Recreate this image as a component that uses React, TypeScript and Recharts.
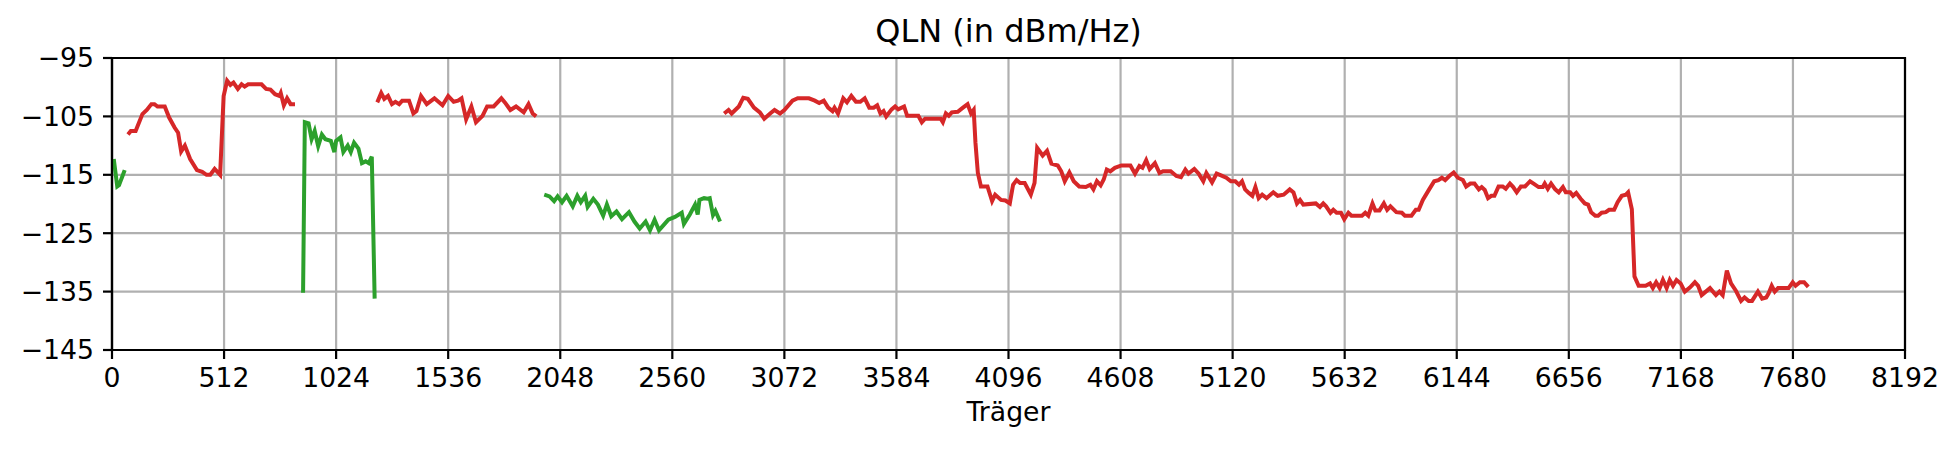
import { LineChart, Line, XAxis, YAxis, CartesianGrid, ReferenceArea } from "recharts"

// QLN per carrier, [carrier, dBm/Hz]
const greenA: [number, number][] = [
  [8, -112.3], [24, -117], [32, -116.8], [40, -116], [48, -115.2], [58, -114.2],
]

const redA: [number, number][] = [
  [73, -108.1], [86, -107.5], [108, -107.5], [139, -104.6], [159, -103.9], [180, -102.9],
  [194, -102.9], [208, -103.3], [241, -103.3], [261, -105.2], [286, -106.9], [302, -107.8],
  [316, -111], [333, -110], [357, -112.3], [388, -114.2], [412, -114.5], [432, -115],
  [449, -115], [469, -114], [494, -115], [510, -101.5], [526, -98.9], [541, -99.6],
  [555, -99.2], [575, -100.3], [592, -99.5], [606, -99.9], [622, -99.5], [683, -99.5],
  [704, -100.3], [724, -100.4], [745, -101.2], [765, -101.5], [771, -101], [785, -103.1],
  [800, -101.9], [816, -102.9], [836, -102.9],
]

const greenB: [number, number][] = [
  [873, -135.2], [881, -106], [898, -106.2], [912, -108.9], [926, -107.5], [942, -110.1],
  [959, -108.1], [975, -108.9], [1000, -109.2], [1016, -111.1], [1024, -109.2], [1044, -108.6],
  [1057, -111.1], [1077, -110], [1091, -111.1], [1106, -109.5], [1126, -110.5], [1142, -113],
  [1159, -112.7], [1173, -113], [1187, -111.9], [1200, -136.2],
]

const redB: [number, number][] = [
  [1212, -102.6], [1230, -101], [1244, -102], [1261, -101.5], [1279, -102.9], [1295, -102.5],
  [1312, -102.9], [1326, -102.3], [1357, -102.3], [1377, -104.5], [1391, -104.1], [1412, -101.5],
  [1438, -102.9], [1473, -101.9], [1510, -103.1], [1536, -101.5], [1561, -102.5], [1581, -102.3],
  [1597, -101.9], [1618, -105.5], [1642, -103.3], [1663, -106], [1693, -104.9], [1714, -103.3],
  [1744, -103.3], [1779, -101.9], [1795, -102.6], [1820, -103.9], [1846, -103.3], [1881, -104.3],
  [1903, -102.9], [1922, -104.5], [1938, -105],
]

const greenC: [number, number][] = [
  [1975, -118.4], [1999, -118.7], [2020, -119.5], [2036, -118.7], [2056, -119.7], [2077, -118.6],
  [2105, -120.4], [2126, -118.6], [2142, -119.7], [2162, -118.6], [2173, -120.5], [2199, -119.1],
  [2220, -120.1], [2244, -122], [2261, -120.1], [2281, -122.1], [2305, -121.3], [2330, -122.6],
  [2362, -121.4], [2387, -123], [2411, -124.2], [2438, -123], [2458, -124.5], [2479, -122.7],
  [2499, -124.5], [2530, -123.2], [2542, -122.7], [2572, -122.2], [2603, -121.5], [2613, -123.4],
  [2640, -121.8], [2664, -120.1], [2676, -121.8], [2684, -119.3], [2705, -119], [2721, -119.1],
  [2731, -119], [2746, -121.9], [2757, -121.2], [2778, -123],
]

const redC: [number, number][] = [
  [2797, -104.5], [2817, -103.9], [2831, -104.5], [2864, -103.3], [2884, -101.8], [2905, -102],
  [2933, -103.5], [2960, -104.3], [2980, -105.4], [3007, -104.5], [3027, -103.9], [3052, -104.5],
  [3072, -103.9], [3109, -102.3], [3133, -101.9], [3184, -101.9], [3211, -102.3], [3231, -102.7],
  [3252, -102.3], [3272, -103.5], [3292, -104.1], [3301, -103.5], [3317, -104.5], [3341, -101.9],
  [3358, -102.6], [3378, -101.5], [3399, -102.5], [3419, -102.5], [3439, -101.9], [3460, -103.5],
  [3480, -103.5], [3496, -103.1], [3511, -104.5], [3525, -104.1], [3537, -105], [3562, -103.8],
  [3578, -103.3], [3592, -103.8], [3619, -103.3], [3633, -104.9], [3684, -104.9], [3700, -106],
  [3715, -105.4], [3786, -105.4], [3796, -106], [3810, -104.5], [3823, -104.9], [3837, -104.3],
  [3864, -104.2], [3888, -103.5], [3909, -102.9], [3925, -104.5], [3937, -103.9], [3945, -109.5],
  [3956, -114.7], [3970, -117], [4000, -117], [4021, -119.5], [4035, -118.4], [4062, -119.3],
  [4082, -119.4], [4102, -119.9], [4117, -116.7], [4133, -115.9], [4149, -116.4], [4170, -116.4],
  [4198, -118.4], [4215, -116.4], [4227, -110.4], [4252, -111.7], [4272, -110.9], [4292, -113.1],
  [4321, -113.4], [4337, -114.4], [4353, -116.1], [4374, -114.6], [4394, -116.1], [4419, -117],
  [4449, -117.1], [4470, -116.7], [4484, -117.5], [4500, -116.1], [4517, -116.8], [4531, -115.8],
  [4545, -114.1], [4561, -114.4], [4582, -113.8], [4612, -113.4], [4653, -113.4], [4674, -114.8],
  [4694, -113.5], [4708, -113.8], [4725, -112.5], [4741, -114], [4765, -113], [4786, -114.7],
  [4802, -114.4], [4837, -114.4], [4863, -115.2], [4884, -115.4], [4904, -114.1], [4918, -114.8],
  [4945, -114], [4965, -114.8], [4986, -116.1], [5000, -114.7], [5026, -116.3], [5047, -114.8],
  [5067, -115.1], [5091, -115.5], [5112, -116.1], [5132, -116.1], [5149, -116.7], [5163, -116.1],
  [5177, -117.5], [5194, -118.1], [5210, -118.6], [5224, -117.1], [5239, -119], [5255, -118.4],
  [5275, -119], [5306, -118], [5326, -118.6], [5353, -118.4], [5381, -117.5], [5398, -118],
  [5414, -119.9], [5428, -119.3], [5443, -120.1], [5500, -119.9], [5519, -120.5], [5534, -119.9],
  [5547, -120.4], [5567, -121.5], [5580, -121], [5595, -121.5], [5615, -121.5], [5630, -122.6],
  [5649, -121.5], [5663, -122], [5711, -122], [5726, -121.5], [5740, -122], [5759, -119.9],
  [5772, -121.1], [5791, -121.1], [5811, -119.9], [5826, -121], [5841, -120.4], [5868, -121.4],
  [5893, -121.5], [5907, -122], [5937, -122], [5957, -121], [5970, -121], [5989, -119.3],
  [6018, -117.5], [6041, -116.1], [6060, -115.9], [6076, -115.5], [6091, -115.9], [6110, -115.2],
  [6130, -114.6], [6149, -115.5], [6172, -115.9], [6187, -117], [6206, -116.5], [6225, -116.5],
  [6245, -117.5], [6258, -117.1], [6272, -117.6], [6287, -119], [6302, -118.6], [6316, -118.6],
  [6335, -117], [6354, -117], [6368, -117.4], [6387, -116.5], [6402, -117.1], [6418, -118],
  [6437, -117], [6456, -117], [6479, -116.1], [6495, -116.5], [6518, -117.1], [6537, -117.1],
  [6546, -116.5], [6560, -117.4], [6575, -116.5], [6594, -117.5], [6610, -118], [6629, -117.1],
  [6642, -118], [6662, -118], [6675, -118.6], [6690, -118.1], [6710, -119.1], [6729, -119.9],
  [6744, -120.1], [6758, -121.4], [6777, -122], [6790, -122], [6806, -121.5], [6825, -121.4],
  [6840, -121], [6863, -121], [6879, -119.7], [6898, -118.6], [6917, -118.4], [6927, -118],
  [6944, -120.9], [6956, -132.4], [6975, -134], [7007, -134], [7027, -133.6], [7040, -134.4],
  [7055, -133.4], [7071, -134.4], [7086, -133], [7103, -134.4], [7117, -133], [7132, -134],
  [7148, -133], [7167, -133.6], [7186, -135], [7209, -134.3], [7232, -133.4], [7247, -134],
  [7263, -135.6], [7282, -135], [7301, -134.4], [7328, -135.6], [7344, -135], [7359, -135.6],
  [7378, -131.4], [7397, -133.6], [7420, -134.9], [7443, -136.6], [7459, -136], [7478, -136.6],
  [7493, -136.6], [7520, -135], [7539, -136.2], [7558, -136], [7569, -135.3], [7583, -134],
  [7597, -135], [7612, -134.4], [7660, -134.4], [7679, -133.4], [7692, -134], [7712, -133.4],
  [7731, -133.4], [7750, -134.2],
]

const xTicks = [0, 512, 1024, 1536, 2048, 2560, 3072, 3584, 4096, 4608, 5120, 5632, 6144, 6656, 7168, 7680, 8192]
const yTicks = [-145, -135, -125, -115, -105, -95]

// join segments, a null point between them breaks the line
const joinSegments = (segments: [number, number][][]) => {
  const out: { x: number; y: number | null }[] = []
  segments.forEach((seg, i) => {
    if (i > 0) out.push({ x: seg[0][0] - 1, y: null })
    seg.forEach(([x, y]) => out.push({ x, y }))
  })
  return out
}

const redData = joinSegments([redA, redB, redC])
const greenData = joinSegments([greenA, greenB, greenC])

const fmt = (v: number) => (v < 0 ? "\u2212" + Math.abs(v) : String(v))

const FONT = "DejaVu Sans, sans-serif"

export default function App() {
  return (
    <div style={{ position: "absolute", left: 0, top: 0, width: 1959, height: 451, background: "#fff", fontFamily: FONT }}>
      <svg width={1959} height={451} style={{ position: "absolute", left: 0, top: 0, pointerEvents: "none" }}>
        <text x={1008.5} y={42} textAnchor="middle" fontSize={32} fill="#000" fontFamily={FONT}>
          QLN (in dBm/Hz)
        </text>
      </svg>
      <LineChart width={1959} height={451} margin={{ top: 58, right: 54, left: 0, bottom: 0 }}>
        <CartesianGrid stroke="#b0b0b0" strokeWidth={2.2} />
        <XAxis
          type="number"
          dataKey="x"
          domain={[0, 8192]}
          ticks={xTicks}
          allowDataOverflow
          height={101}
          tickSize={9}
          tickMargin={9}
          axisLine={{ stroke: "#000", strokeWidth: 2.2 }}
          tickLine={{ stroke: "#000", strokeWidth: 2.2 }}
          tick={{ fill: "#000", fontSize: 26.7, fontFamily: FONT }}
          label={{ value: "Träger", position: "insideBottom", offset: 30, fill: "#000", fontSize: 26.7, fontFamily: FONT }}
        />
        <YAxis
          type="number"
          domain={[-145, -95]}
          ticks={yTicks}
          allowDataOverflow
          width={112}
          tickSize={9}
          tickMargin={9}
          tickFormatter={fmt}
          axisLine={{ stroke: "#000", strokeWidth: 2.2 }}
          tickLine={{ stroke: "#000", strokeWidth: 2.2 }}
          tick={{ fill: "#000", fontSize: 26.7, fontFamily: FONT }}
        />
        <ReferenceArea x1={0} x2={8192} y1={-145} y2={-95} fill="none" stroke="#000" strokeWidth={2.2} ifOverflow="visible" />
        <Line data={greenData} dataKey="y" stroke="#2ca02c" strokeWidth={4} dot={false} isAnimationActive={false} connectNulls={false} />
        <Line data={redData} dataKey="y" stroke="#d62728" strokeWidth={4} dot={false} isAnimationActive={false} connectNulls={false} />
      </LineChart>
    </div>
  )
}
